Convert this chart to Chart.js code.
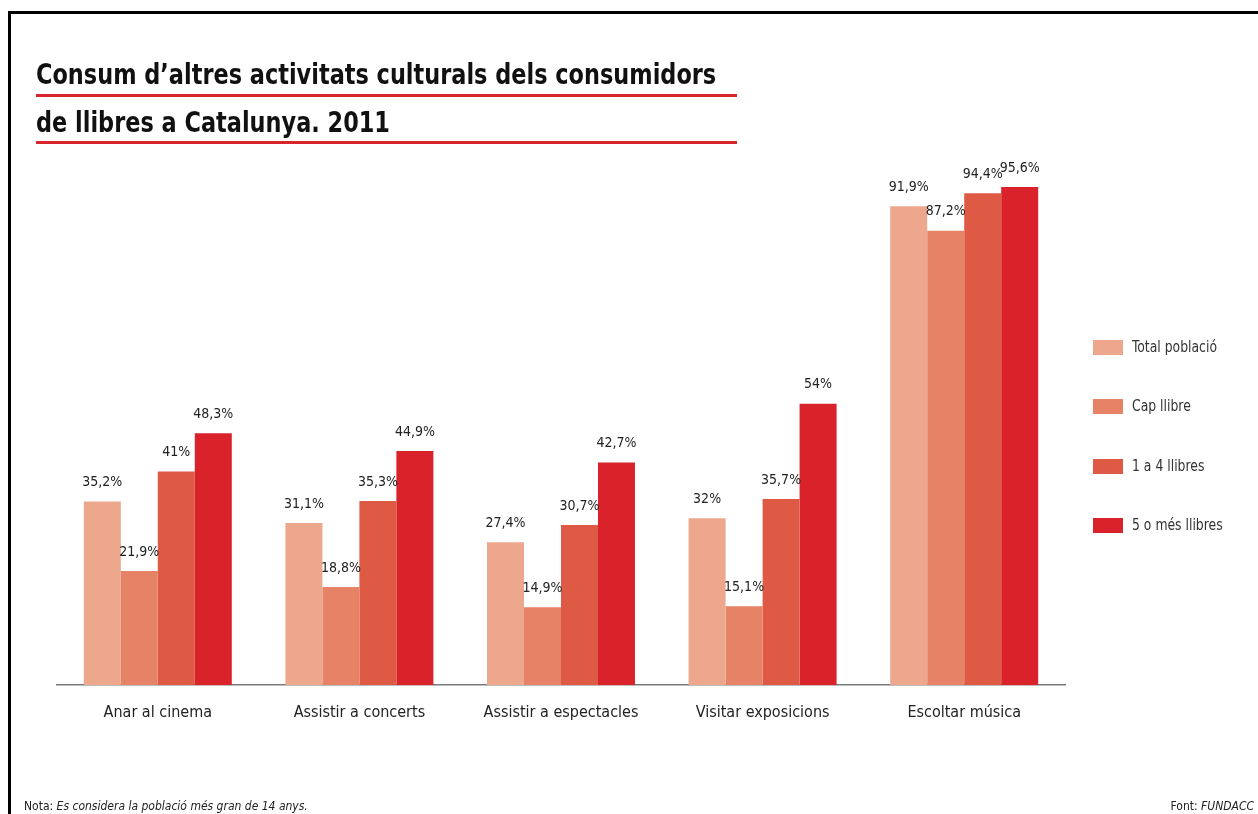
<!DOCTYPE html>
<html>
<head>
<meta charset="utf-8">
<script src="https://cdn.jsdelivr.net/npm/chart.js@4/dist/chart.umd.min.js"></script>
<style>
  html, body { margin:0; padding:0; background:#fff; }
  body { width:1258px; height:814px; position:relative; overflow:hidden; font-family:"Liberation Sans Narrow","DejaVu Sans Condensed","Liberation Sans",sans-serif; }
  #frame { position:absolute; left:8px; top:11px; width:1260px; height:820px; border-left:3px solid #000; border-top:3px solid #000; box-sizing:border-box; }
  #chartWrap { position:absolute; left:0; top:0; width:1258px; height:814px; }
  .title { position:absolute; left:36px; font-weight:bold; font-size:28px; color:#111; white-space:nowrap; transform:scaleX(0.89); transform-origin:0 0; }
  .rule { position:absolute; left:36px; width:701px; height:3px; background:#d7262c; }
  #legend { position:absolute; left:1093px; top:340px; }
  .li { position:absolute; left:0; white-space:nowrap; font-size:15px; color:#333; }
  .li span.sw { position:absolute; left:0; top:0; width:30px; height:15px; }
  .li span.tx { position:absolute; left:39px; top:-2px; transform:scaleX(0.92); transform-origin:0 0; }
  .note { position:absolute; bottom:1px; font-size:12px; color:#222; white-space:nowrap; }
</style>
</head>
<body>
<div id="frame"></div>
<div id="chartWrap"><canvas id="c" width="1258" height="814"></canvas></div>
<div class="title" style="top:58px;">Consum d’altres activitats culturals dels consumidors</div>
<div class="rule" style="top:94px;"></div>
<div class="title" style="top:106px;">de llibres a Catalunya. 2011</div>
<div class="rule" style="top:141px;"></div>
<div id="legend"></div>
<div class="note" style="left:24px;">Nota: <i>Es considera la població més gran de 14 anys.</i></div>
<div class="note" style="right:4px;">Font: <i>FUNDACC</i></div>
<script>
const categories = ["Anar al cinema", "Assistir a concerts", "Assistir a espectacles", "Visitar exposicions", "Escoltar música"];
const seriesNames = ["Total població", "Cap llibre", "1 a 4 llibres", "5 o més llibres"];
const totalPoblacio = [35.2, 31.1, 27.4, 32.0, 91.9];
const capLlibre = [21.9, 18.8, 14.9, 15.1, 87.2];
const unA4Llibres = [41.0, 35.3, 30.7, 35.7, 94.4];
const cincOMesLlibres = [48.3, 44.9, 42.7, 54.0, 95.6];
const colors = ["#eca78d", "#e68266", "#df5a44", "#d9222a"];

const seriesData = [totalPoblacio, capLlibre, unA4Llibres, cincOMesLlibres];

// legend
const legend = document.getElementById('legend');
seriesNames.forEach((n, i) => {
  const d = document.createElement('div');
  d.className = 'li';
  d.style.top = (i * 59.3) + 'px';
  d.innerHTML = '<span class="sw" style="background:' + colors[i] + '"></span><span class="tx">' + n + '</span>';
  legend.appendChild(d);
});

function fmt(v) {
  return (Number.isInteger(v) ? String(v) : v.toFixed(1).replace('.', ',')) + '%';
}

const labelPlugin = {
  id: 'vals',
  afterDatasetsDraw(chart) {
    const ctx = chart.ctx;
    ctx.save();
    ctx.font = '14px "Liberation Sans Narrow","DejaVu Sans Condensed",sans-serif';
    ctx.fillStyle = '#222';
    ctx.textAlign = 'center';
    ctx.textBaseline = 'bottom';
    chart.data.datasets.forEach((ds, di) => {
      const meta = chart.getDatasetMeta(di);
      meta.data.forEach((bar, i) => {
        ctx.fillText(fmt(ds.data[i]), bar.x, bar.y - 12);
      });
    });
    ctx.restore();
  }
};

new Chart(document.getElementById('c'), {
  type: 'bar',
  data: {
    labels: categories,
    datasets: seriesData.map((d, i) => ({
      label: seriesNames[i],
      data: d,
      backgroundColor: colors[i],
      borderWidth: 0,
      categoryPercentage: 0.734,
      barPercentage: 1.0
    }))
  },
  options: {
    responsive: false,
    animation: false,
    layout: { padding: { top: 164, left: 57, right: 193, bottom: 0 } },
    plugins: { legend: { display: false }, tooltip: { enabled: false }, title: { display: false } },
    scales: {
      x: {
        grid: { display: false, drawTicks: false },
        border: { display: true, color: '#7a7a7a', width: 1.5 },
        ticks: { color: '#222', padding: 18, font: { size: 16, family: '"Liberation Sans Narrow","DejaVu Sans Condensed",sans-serif' } },
        afterFit(scale) { scale.height = 129; }
      },
      y: {
        display: false,
        min: 0,
        max: 100
      }
    }
  },
  plugins: [labelPlugin]
});
</script>
</body>
</html>
